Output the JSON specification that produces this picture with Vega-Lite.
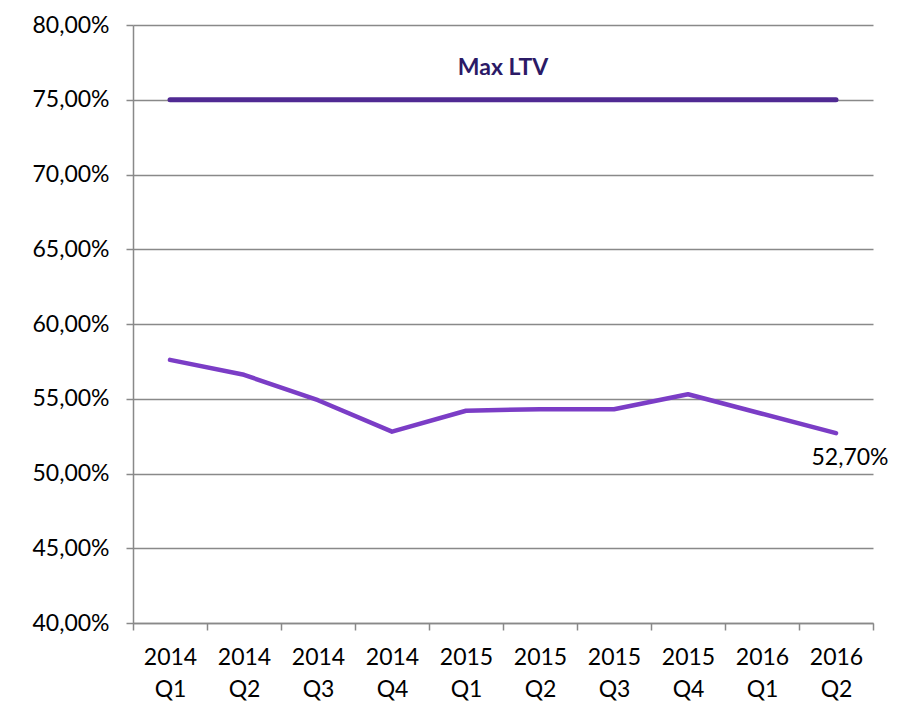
{
  "$schema": "https://vega.github.io/schema/vega-lite/v6.json",
  "width": 740,
  "height": 598,
  "autosize": {"type": "none"},
  "padding": {"left": 133, "top": 25, "right": 33, "bottom": 98},
  "background": "white",
  "config": {
    "view": {"stroke": null},
    "font": "Lato",
    "axis": {"labelFont": "Lato", "labelFontSize": 23, "labelColor": "#000000"}
  },
  "datasets": {
    "ltv": [
      {"q": "2014 Q1", "v": 57.6, "max": 75},
      {"q": "2014 Q2", "v": 56.6, "max": 75},
      {"q": "2014 Q3", "v": 54.9, "max": 75},
      {"q": "2014 Q4", "v": 52.8, "max": 75},
      {"q": "2015 Q1", "v": 54.2, "max": 75},
      {"q": "2015 Q2", "v": 54.3, "max": 75},
      {"q": "2015 Q3", "v": 54.3, "max": 75},
      {"q": "2015 Q4", "v": 55.3, "max": 75},
      {"q": "2016 Q1", "v": 54.0, "max": 75},
      {"q": "2016 Q2", "v": 52.7, "max": 75}
    ]
  },
  "data": {"name": "ltv"},
  "encoding": {
    "x": {
      "field": "q",
      "type": "ordinal",
      "sort": null,
      "bandPosition": 0.5,
      "scale": {"type": "band", "paddingInner": 0, "paddingOuter": 0},
      "axis": {
        "title": null,
        "labelAngle": 0,
        "labelExpr": "split(datum.label, ' ')",
        "labelLineHeight": 32,
        "labelPadding": 16,
        "labelBaseline": "top",
        "tickBand": "extent",
        "tickColor": "#898989",
        "tickWidth": 1.5,
        "tickSize": 7,
        "domainColor": "#898989",
        "domainWidth": 1.5,
        "grid": false
      }
    }
  },
  "layer": [
    {
      "mark": {"type": "line", "color": "#502A93", "strokeWidth": 5, "strokeCap": "round"},
      "encoding": {
        "y": {
          "field": "max",
          "type": "quantitative",
          "scale": {"domain": [40, 80], "nice": false},
          "axis": {
            "title": null,
            "values": [40, 45, 50, 55, 60, 65, 70, 75, 80],
            "labelExpr": "replace(format(datum.value, '.2f'), '.', ',') + '%'",
            "labelPadding": 17,
            "tickColor": "#898989",
            "tickWidth": 1.5,
            "tickSize": 7,
            "domainColor": "#898989",
            "domainWidth": 1.5,
            "grid": true,
            "gridColor": "#898989",
            "gridWidth": 1.5
          }
        }
      }
    },
    {
      "mark": {"type": "line", "color": "#7B3DC6", "strokeWidth": 4.5, "strokeCap": "round", "strokeJoin": "round"},
      "encoding": {
        "y": {"field": "v", "type": "quantitative"}
      }
    },
    {
      "transform": [{"filter": "datum.q == '2016 Q2'"}],
      "mark": {"type": "text", "fontSize": 23, "color": "#000000", "align": "center", "baseline": "middle", "dx": 14, "dy": 25},
      "encoding": {
        "y": {"field": "v", "type": "quantitative"},
        "text": {"value": "52,70%"}
      }
    },
    {
      "transform": [{"filter": "datum.q == '2015 Q1'"}],
      "mark": {"type": "text", "fontSize": 23, "fontWeight": "bold", "color": "#2B1A66", "align": "center", "baseline": "middle"},
      "encoding": {
        "x": {"field": "q", "type": "ordinal", "sort": null, "bandPosition": 1},
        "y": {"datum": 77.1, "type": "quantitative"},
        "text": {"value": "Max LTV"}
      }
    }
  ]
}
